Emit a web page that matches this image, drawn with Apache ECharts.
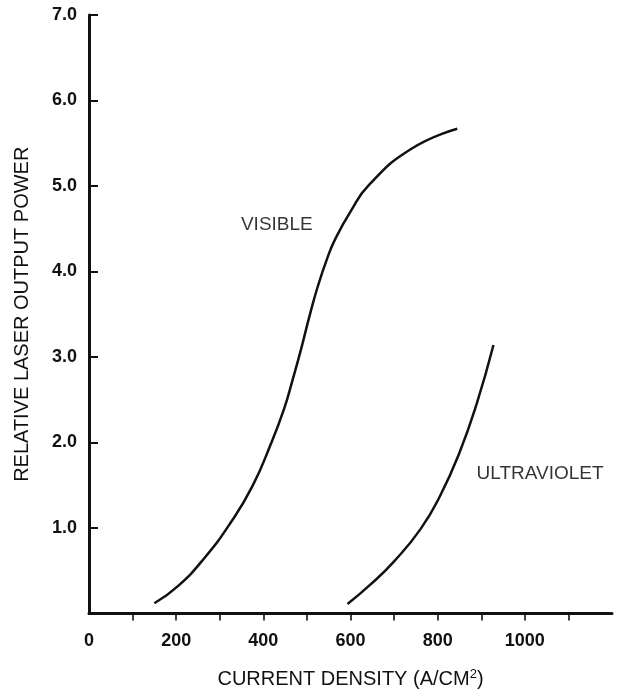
<!DOCTYPE html>
<html>
<head>
<meta charset="utf-8">
<script src="https://cdn.jsdelivr.net/npm/echarts@6/dist/echarts.min.js"></script>
<style>
html,body{margin:0;padding:0;background:#fff;}
#chart{width:623px;height:694px;}
</style>
</head>
<body>
<div id="chart"></div>
<script>
// Data
const visibleData = [[150,0.12],[204,0.32],[265,0.65],[326,1.07],[375,1.49],[417,1.98],[448,2.40],[467,2.73],[486,3.08],[505,3.46],[524,3.81],[547,4.16],[566,4.39],[600,4.70],[642,5.01],[738,5.43],[845,5.67]];
const ultravioletData = [[593,0.11],[646,0.34],[700,0.61],[761,0.99],[806,1.38],[850,1.88],[890,2.46],[928,3.14]];
const curveLabels = [[431,4.55,'VISIBLE'],[1035,1.64,'ULTRAVIOLET']];
const xTickValues = [100,200,300,400,500,600,700,800,900,1000,1100];
const xLabelValues = [0,200,400,600,800,1000];
const yTickValues = [1,2,3,4,5,6,7];
const yLabelValues = [1,2,3,4,5,6,7];
const xName = 'CURRENT DENSITY (A/CM{sup|2})';
const yName = 'RELATIVE LASER OUTPUT POWER';

const ink = '#111';
const font = "'Liberation Sans', Arial, sans-serif";
const chart = echarts.init(document.getElementById('chart'), null, {renderer:'canvas'});
chart.setOption({
  animation: false,
  backgroundColor: '#fff',
  grid: {left: 89, right: 11, top: 15, bottom: 75, containLabel: false},
  xAxis: {
    type: 'value', min: 0, max: 1200, interval: 100,
    splitLine: {show: false},
    axisLine: {show: true, lineStyle: {color: ink, width: 3}},
    axisTick: {show: true, inside: false, length: 7, lineStyle: {color: ink, width: 1.6}, customValues: xTickValues},
    axisLabel: {show: true, margin: 19, color: ink, fontFamily: font, fontSize: 18, fontWeight: 'bold', customValues: xLabelValues,
      formatter: v => String(v)},
    name: xName, nameLocation: 'middle', nameGap: 54,
    nameTextStyle: {color: ink, fontFamily: font, fontSize: 20,
      rich: {sup: {fontSize: 13, verticalAlign: 'top', color: ink, fontFamily: font, padding: [0,0,10,0]}}}
  },
  yAxis: {
    type: 'value', min: 0, max: 7, interval: 1,
    splitLine: {show: false},
    axisLine: {show: true, lineStyle: {color: ink, width: 3}},
    axisTick: {show: true, inside: true, length: 9, lineStyle: {color: ink, width: 2}, customValues: yTickValues},
    axisLabel: {show: true, margin: 12, color: ink, fontFamily: font, fontSize: 18, fontWeight: 'bold', customValues: yLabelValues,
      formatter: v => v.toFixed(1)},
    name: yName, nameLocation: 'middle', nameGap: 57, nameRotate: 90,
    nameTextStyle: {color: ink, fontFamily: font, fontSize: 20}
  },
  series: [
    {name: 'VISIBLE', type: 'line', data: visibleData, smooth: 0.5, showSymbol: false,
      lineStyle: {color: ink, width: 2.5}},
    {name: 'ULTRAVIOLET', type: 'line', data: ultravioletData, smooth: 0.5, showSymbol: false,
      lineStyle: {color: ink, width: 2.5}},
    {name: 'labels', type: 'scatter', data: curveLabels, symbolSize: 0, silent: true,
      label: {show: true, position: 'inside', formatter: p => p.value[2], color: '#000', fontFamily: font, fontSize: 19}}
  ]
});
</script>
</body>
</html>
